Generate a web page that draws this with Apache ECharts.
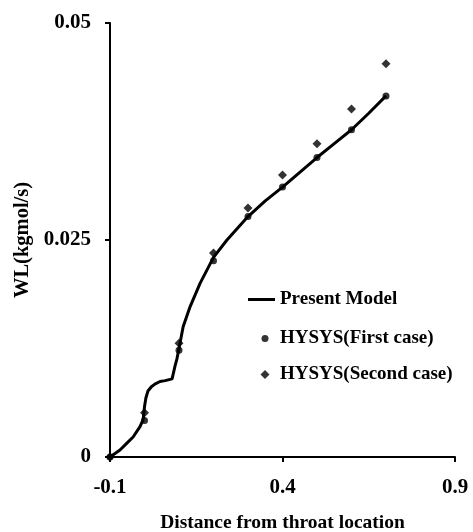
<!DOCTYPE html>
<html>
<head>
<meta charset="utf-8">
<script src="https://cdn.jsdelivr.net/npm/echarts@6/dist/echarts.min.js"></script>
<style>html,body{margin:0;padding:0;background:#fff}#c{width:473px;height:532px}</style>
</head>
<body>
<div id="c"></div>
<script>
// Present Model curve
var modelX = [-0.1, -0.071, -0.051, -0.033, -0.013, -0.004, 0.0, 0.004, 0.01, 0.02, 0.03, 0.045, 0.06, 0.08, 0.088, 0.094, 0.1, 0.112, 0.132, 0.161, 0.2, 0.239, 0.3, 0.35, 0.4, 0.45, 0.5, 0.55, 0.6, 0.65, 0.7];
var modelY = [0, 0.0008, 0.0016, 0.0023, 0.0035, 0.0043, 0.0058, 0.0068, 0.0076, 0.0081, 0.0084, 0.0087, 0.0088, 0.009, 0.0104, 0.0113, 0.0125, 0.015, 0.0173, 0.020, 0.023, 0.025, 0.0277, 0.0295, 0.0311, 0.0328, 0.0345, 0.0361, 0.0377, 0.0396, 0.0416];
// HYSYS points
var caseX = [-0.1, 0.0, 0.1, 0.2, 0.3, 0.4, 0.5, 0.6, 0.7];
var firstY = [0, 0.0042, 0.0123, 0.0226, 0.0277, 0.0311, 0.0345, 0.0377, 0.0416];
var secondY = [0, 0.0051, 0.0131, 0.0235, 0.0287, 0.0325, 0.0361, 0.0401, 0.0453];
var yTicks = [0, 0.025, 0.05];
var xTicks = [-0.1, 0.4, 0.9];
var names = ['Present Model', 'HYSYS(First case)', 'HYSYS(Second case)'];

function zip(xs, ys) { return xs.map(function (x, i) { return [x, ys[i]]; }); }
var FONT = '"Liberation Serif", "Times New Roman", serif';
function legendText(padLeft) {
  return { fontFamily: FONT, fontWeight: 'bold', fontSize: 19, color: '#000', padding: [0, 0, 0, padLeft] };
}

var chart = echarts.init(document.getElementById('c'), null, { renderer: 'canvas' });
chart.setOption({
  animation: false,
  backgroundColor: '#ffffff',
  grid: { left: 110, right: 18, top: 23, bottom: 75, containLabel: false, outerBoundsMode: 'none' },
  xAxis: {
    type: 'value', min: xTicks[0], max: xTicks[2], interval: 0.5,
    name: 'Distance from throat location', nameLocation: 'middle', nameGap: 56,
    nameTextStyle: { fontFamily: FONT, fontWeight: 'bold', fontSize: 19.5, color: '#000' },
    axisLine: { show: true, onZero: false, lineStyle: { color: '#000', width: 2 } },
    axisTick: { show: true, length: 5, lineStyle: { color: '#000', width: 2 } },
    axisLabel: { fontFamily: FONT, fontWeight: 'bold', fontSize: 21, color: '#000', margin: 20,
      formatter: function (v) { return String(Math.round(v * 10) / 10); } },
    splitLine: { show: false }
  },
  yAxis: {
    type: 'value', min: yTicks[0], max: yTicks[2], interval: 0.025,
    name: 'WL(kgmol/s)', nameLocation: 'middle', nameGap: 77,
    nameTextStyle: { fontFamily: FONT, fontWeight: 'bold', fontSize: 20.5, color: '#000' },
    axisLine: { show: true, onZero: false, lineStyle: { color: '#000', width: 2 } },
    axisTick: { show: true, length: 5, lineStyle: { color: '#000', width: 2 } },
    axisLabel: { fontFamily: FONT, fontWeight: 'bold', fontSize: 21, color: '#000', margin: 19,
      formatter: function (v) { return v === 0 ? '0' : String(Math.round(v * 1000) / 1000); } },
    splitLine: { show: false }
  },
  legend: [
    { left: 243, top: 285, orient: 'vertical', itemWidth: 27, itemHeight: 3, itemGap: 5,
      data: [{ name: names[0], icon: 'rect' }], textStyle: legendText(0) },
    { left: 256.5, top: 324, orient: 'vertical', itemWidth: 7, itemHeight: 7, itemGap: 5,
      data: [{ name: names[1], icon: 'circle' }], textStyle: legendText(6.5) },
    { left: 255.5, top: 360, orient: 'vertical', itemWidth: 9, itemHeight: 9, itemGap: 5,
      data: [{ name: names[2], icon: 'diamond' }], textStyle: legendText(5.5) }
  ],
  series: [
    { name: names[0], type: 'line', data: zip(modelX, modelY), showSymbol: false, symbol: 'none',
      smooth: false, lineStyle: { color: '#000', width: 3 }, itemStyle: { color: '#000' }, z: 2 },
    { name: names[1], type: 'scatter', data: zip(caseX, firstY), symbol: 'circle', symbolSize: 7,
      itemStyle: { color: '#000' }, z: 3 },
    { name: names[2], type: 'scatter', data: zip(caseX, secondY), symbol: 'diamond', symbolSize: 9,
      itemStyle: { color: '#000' }, z: 3 }
  ]
});
</script>
</body>
</html>
